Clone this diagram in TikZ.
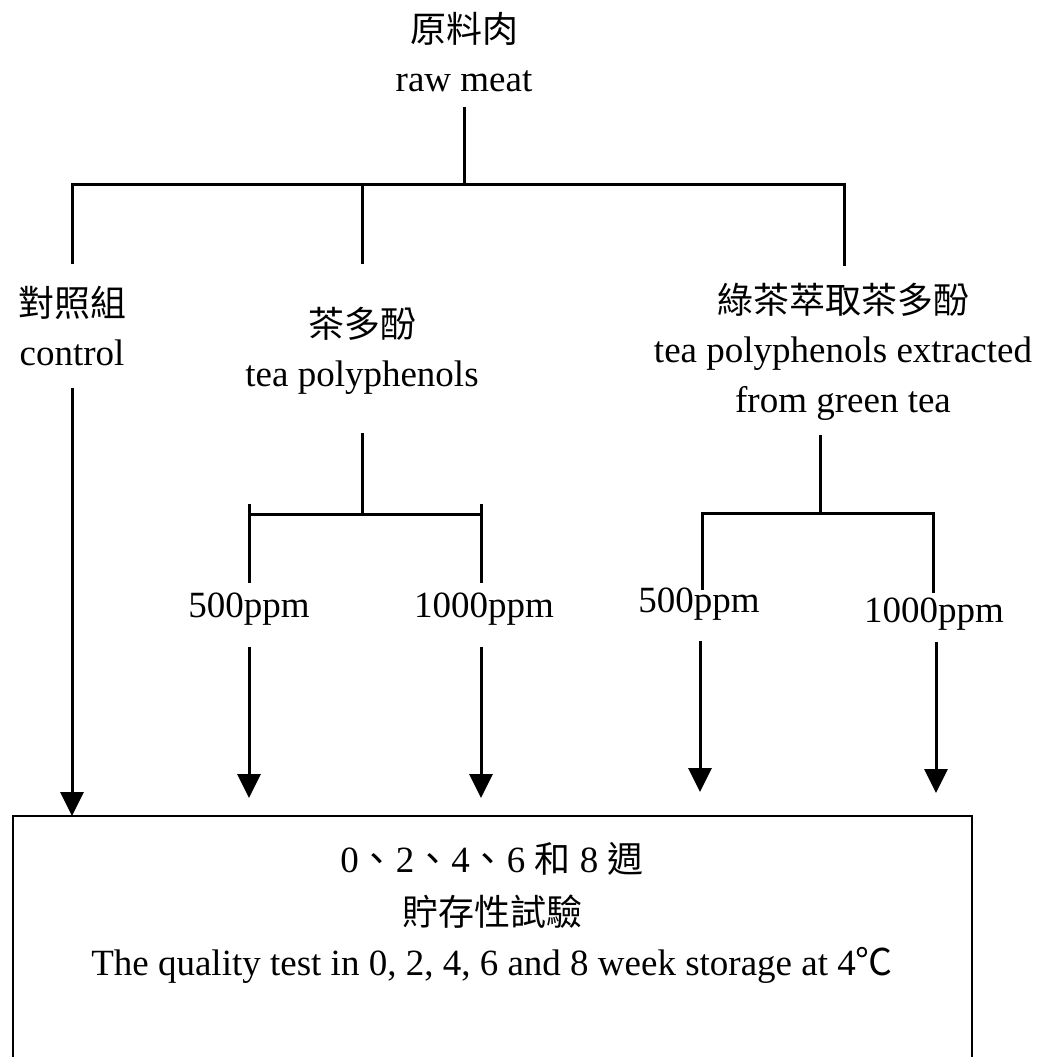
\documentclass[tikz,border=0pt]{standalone}
\usepackage{fontspec}
\setmainfont{Liberation Serif}
\newfontfamily\cjk{Noto Sans CJK TC}
\usepackage{tikz}
\usetikzlibrary{arrows.meta}

\begin{document}
\begin{tikzpicture}[x=1pt, y=-1pt,
    zh/.style={font=\cjk\fontsize{36}{40}\selectfont, inner sep=0pt},
    en/.style={font=\fontsize{37}{42}\selectfont, inner sep=0pt, anchor=base},
    branch/.style={line width=3pt},
    feed/.style={line width=3pt, -{Triangle[width=23pt,length=24pt]}},
    panel/.style={draw, line width=1.8pt, outer sep=0pt, anchor=north west}
]
\useasboundingbox (0,0) rectangle (1039,1057);
\clip (0,0) rectangle (1039,1057);

% Raw meat
\node[zh] (meatzh) at (464,29) {原料肉};
\node[en] (meat) at (464,92) {raw meat};

% Groups
\node[zh] (ctrlzh) at (72,303) {對照組};
\node[en] (ctrl) at (72,365) {control};
\node[zh] (teazh) at (362,324) {茶多酚};
\node[en] (tea) at (362,386) {tea polyphenols};
\node[zh] (greenzh) at (843,300) {綠茶萃取茶多酚};
\node[en] (green) at (843,362) {tea polyphenols extracted};
\node[en] (green2) at (843,412) {from green tea};

% Doses
\node[en] (tea500) at (249,617) {500ppm};
\node[en] (tea1000) at (484,617) {1000ppm};
\node[en] (green500) at (699,612) {500ppm};
\node[en] (green1000) at (934,622) {1000ppm};

% Storage test box
\node[panel, minimum width=959pt, minimum height=320pt] (store) at (13,816) {};
\node[en, anchor=center] (weeks) at (492,859) {0{\cjk 、}2{\cjk 、}4{\cjk 、}6 {\cjk\fontsize{36}{40}\selectfont 和} 8 {\cjk\fontsize{36}{40}\selectfont 週}};
\node[zh] (storezh) at (492,912) {貯存性試驗};
\node[en] (storeen) at (492,975) {The quality test in 0, 2, 4, 6 and 8 week storage at 4{\cjk ℃}};

% First split
\coordinate (meatfoot) at (464,107);
\coordinate (hub) at (464,184);
\coordinate (ctrlhead) at (72,264);
\coordinate (teahead) at (362,264);
\coordinate (greenhead) at (844,266);
\coordinate (teatop) at (362,184);
\draw[branch] (meatfoot) -- (hub);
\draw[branch] (ctrlhead) |- (greenhead |- hub) -- (greenhead);
\draw[branch] (teatop) -- (teahead);

% Tea polyphenols split
\coordinate (teafoot) at (362,433);
\coordinate (teahub) at (362,514);
\coordinate (tea500top) at (249,504);
\coordinate (tea500head) at (249,583);
\coordinate (tea1000top) at (481,504);
\coordinate (tea1000head) at (481,583);
\draw[branch] (teafoot) -- (teahub);
\draw[branch] (tea500top) -- (tea500head);
\draw[branch] (tea1000top) -- (tea1000head);
\draw[branch] (tea500top |- teahub) -- (tea1000top |- teahub);

% Green tea split
\coordinate (greenfoot) at (820,435);
\coordinate (greenhub) at (820,513);
\coordinate (green500head) at (702,590);
\coordinate (green1000head) at (933,593);
\draw[branch] (greenfoot) -- (greenhub);
\draw[branch] (green500head) |- (greenhub) -| (green1000head);

% Arrows to the test
\coordinate (ctrlfoot) at (72,388);
\coordinate (tea500foot) at (249,647);
\coordinate (tea1000foot) at (481,647);
\coordinate (green500foot) at (700,641);
\coordinate (green1000foot) at (936,642);
\draw[feed] (ctrlfoot) -- (ctrlfoot |- store.north);
\draw[feed] (tea500foot) -- (249,798);
\draw[feed] (tea1000foot) -- (481,798);
\draw[feed] (green500foot) -- (700,792);
\draw[feed] (green1000foot) -- (936,793);

\end{tikzpicture}
\end{document}
